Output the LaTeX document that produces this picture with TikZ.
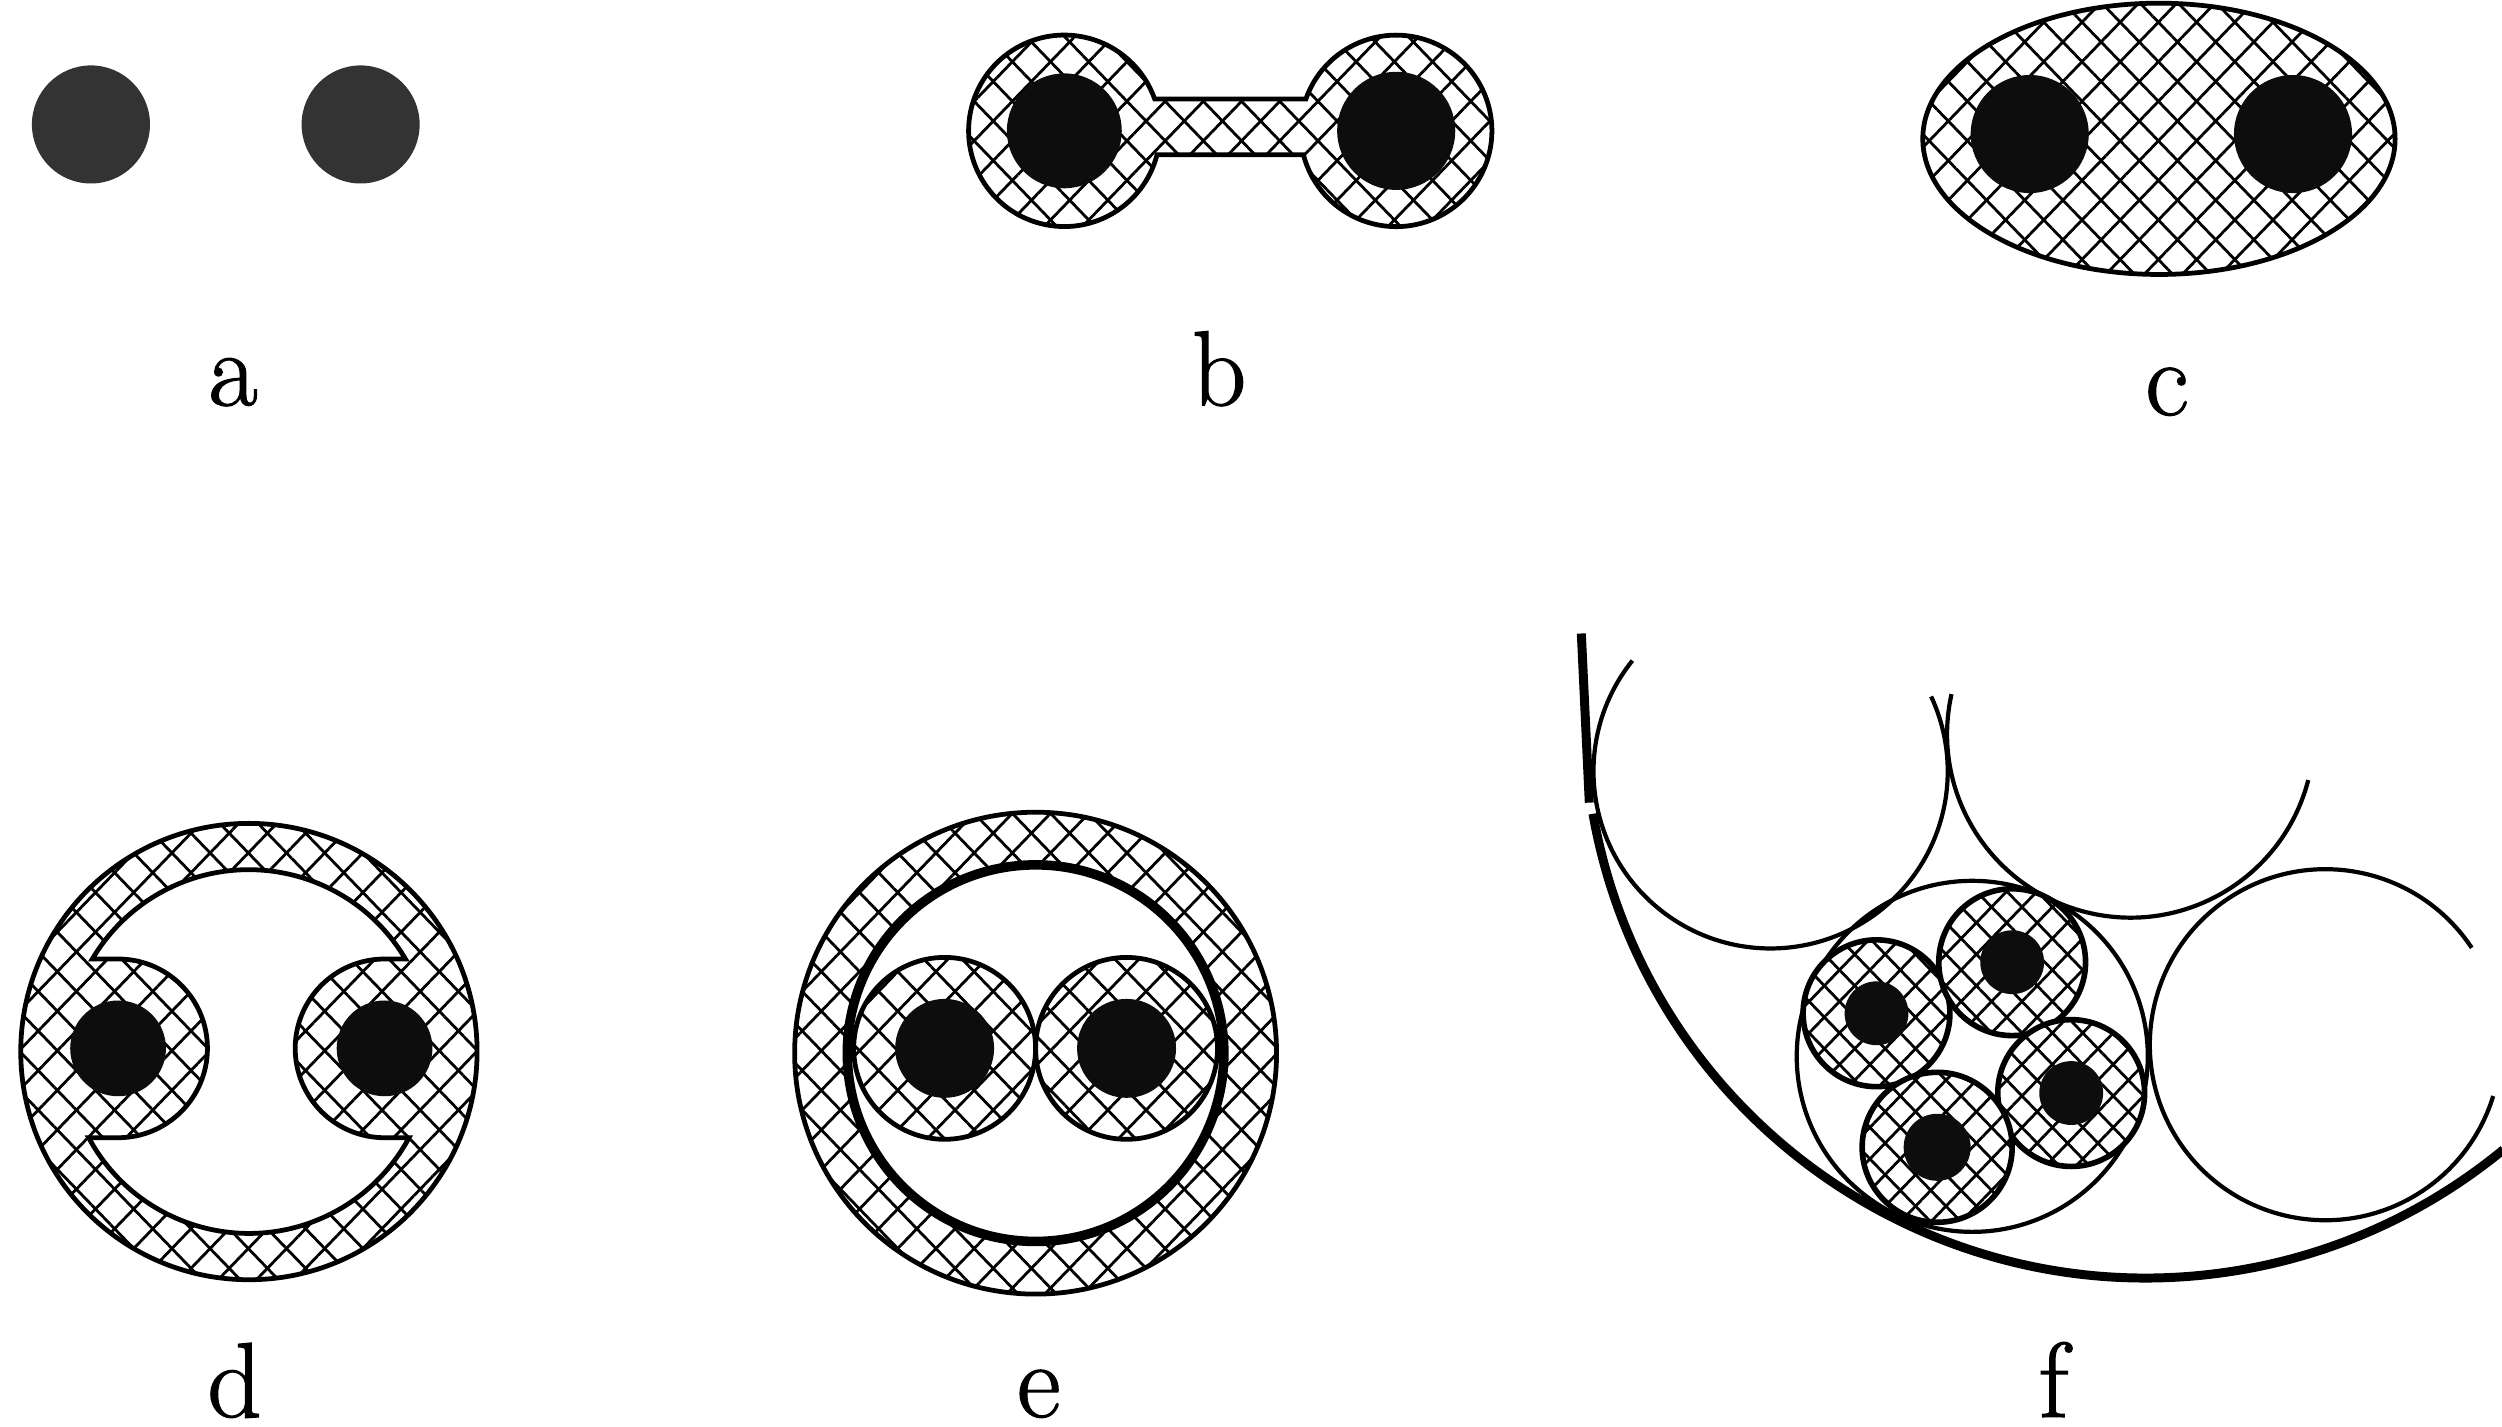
\documentclass[tikz,border=0pt]{standalone}
\usepackage{fontspec}
\newfontfamily\letterfont[FakeBold=1.2]{Latin Modern Roman}
\usetikzlibrary{patterns.meta}
\tikzset{
  hatched/.style={fill=white,
    preaction={fill=white},
    pattern={Lines[angle=46,distance=#1,line width=.5pt]},
    postaction={pattern={Lines[angle=-46,distance=#1,line width=.5pt]}}},
  hatched/.default=4.9pt,
  core/.style={fill=black!95,draw=none},
  rim/.style={line width=.85pt},
  letter/.style={anchor=base,inner sep=0pt,font=\fontsize{19}{21}\letterfont}
}
\begin{document}
\begin{tikzpicture}[rim]
\useasboundingbox (0,0) rectangle (15.68,8.94);
% a
\fill[black!80] (0.57,8.16) circle (0.37);
\fill[black!80] (2.26,8.16) circle (0.37);
\node[letter] (la) at (1.46,6.40) {a};
% b
\draw[hatched] (7.236,8.32) -- (8.184,8.32)
      arc[start angle=160.5,end angle=-165.5,radius=0.60]
      -- (7.251,7.97)
      arc[start angle=-14.5,end angle=-340.5,radius=0.60] -- cycle;
\fill[core] (6.67,8.12) circle (0.36);
\fill[core] (8.75,8.12) circle (0.37);
\node[letter] (lb) at (7.64,6.40) {b};
% c
\draw[hatched] (13.53,8.07) ellipse (1.48 and 0.85);
\fill[core] (12.72,8.10) circle (0.37);
\fill[core] (14.37,8.10) circle (0.37);
\node[letter] (lc) at (13.58,6.34) {c};
% d
\draw[hatched] (1.56,2.35) circle (1.43);
\draw[fill=white] (2.541,2.93) arc[start angle=30.6,end angle=149.4,radius=1.14]
      -- (0.74,2.93) arc[start angle=90,end angle=-90,radius=0.56]
      -- (0.556,1.81) arc[start angle=208.3,end angle=331.7,radius=1.14]
      -- (2.41,1.81) arc[start angle=-90,end angle=-270,radius=0.56] -- cycle;
\fill[core] (0.74,2.37) circle (0.30);
\fill[core] (2.41,2.37) circle (0.30);
\node[letter] (ld) at (1.47,0.06) {d};
% e
\draw[hatched] (6.49,2.34) circle (1.51);
\draw[fill=white,line width=1.7pt] (6.49,2.34) circle (1.18);
\foreach \x in {5.92,7.06} {
  \draw[hatched] (\x,2.37) circle (0.57);
  \fill[core] (\x,2.37) circle (0.31);
}
\node[letter] (le) at (6.51,0.06) {e};
% f
\draw[line width=1.6pt] (9.91,4.97) -- (9.96,3.91);
\draw[line width=1.6pt] (9.983,3.84)
      arc[start angle=190,end angle=309.5,radius=3.52];
\draw[line width=.75pt] (10.23,4.80) arc[start angle=141.3,end angle=385,radius=1.11];
\draw[line width=.75pt] (12.23,4.59) arc[start angle=167.4,end angle=345.5,radius=1.15];
\draw[line width=.75pt] (15.49,3.00) arc[start angle=33.5,end angle=343,radius=1.10];
\draw[line width=.75pt] (12.36,2.32) circle (1.10);
\foreach \x/\y/\r/\s in {11.76/2.59/0.46/0.20,12.61/2.91/0.46/0.20,
                         12.98/2.09/0.46/0.20,12.14/1.75/0.47/0.21} {
  \draw[hatched=3.9pt,line width=1pt] (\x,\y) circle (\r);
  \fill[core] (\x,\y) circle (\s);
}
\node[letter] (lf) at (12.87,0.06) {f};
\end{tikzpicture}
\end{document}
